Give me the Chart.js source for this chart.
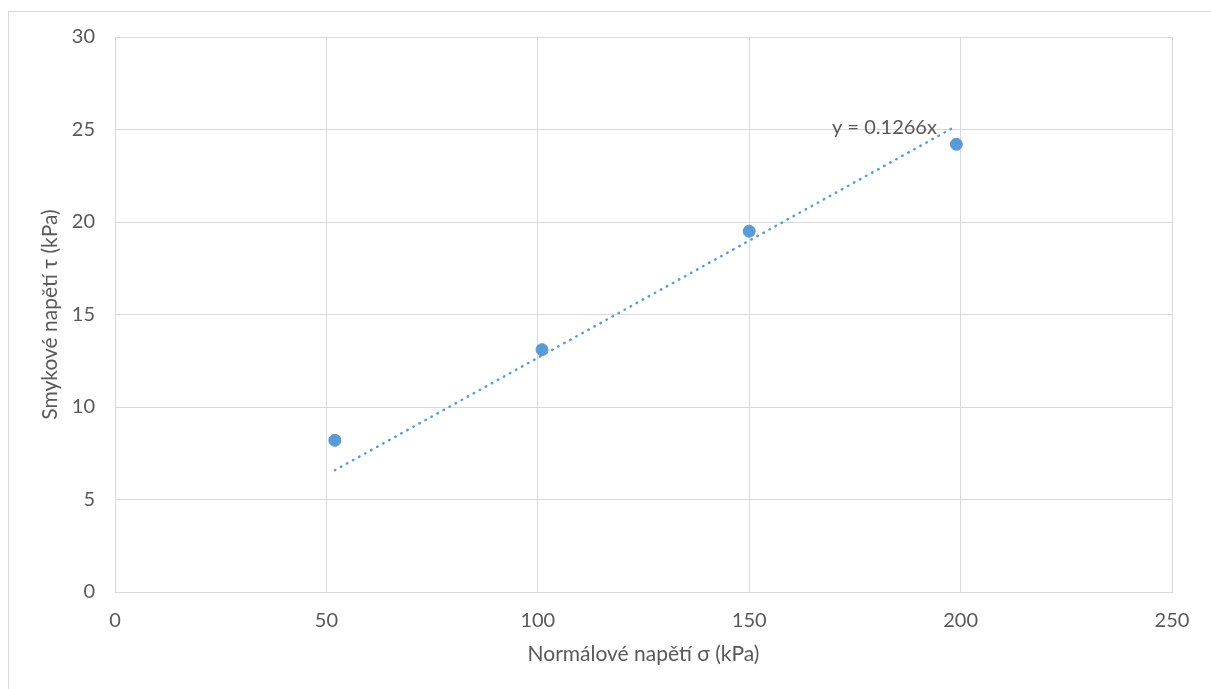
<!DOCTYPE html>
<html><head><meta charset="utf-8">
<script src="https://cdn.jsdelivr.net/npm/chart.js@4"></script>
<style>
html,body{margin:0;padding:0;background:#fff;width:1211px;height:689px;overflow:hidden}
#frame{position:absolute;left:8px;top:11px;width:1300px;height:800px;border-left:1px solid #d9d9d9;border-top:1px solid #d9d9d9;}
#wrap{position:absolute;left:0;top:0;width:1211px;height:689px}
</style></head><body>
<div id="frame"></div>
<div id="wrap"><canvas id="c"></canvas></div>
<script>
// Data
const normalStress = [52, 101, 150, 199];      // σ (kPa)
const shearStress  = [8.2, 13.1, 19.5, 24.2];  // τ (kPa)
const xTickValues = [0, 50, 100, 150, 200, 250];
const yTickValues = [0, 5, 10, 15, 20, 25, 30];
const trendSlope = 0.1266;
const trendLabel = 'y = 0.1266x';
const xTitle = 'Normálové napětí σ (kPa)';
const yTitle = 'Smykové napětí τ (kPa)';

// label anchor (data units, right edge of text)
const labelAnchor = {x: 194.4, y: 25.08};

const xMin = Math.min(...normalStress), xMax = Math.max(...normalStress);
const trendData = [{x: xMin, y: trendSlope * xMin}, {x: xMax, y: trendSlope * xMax}];
const points = normalStress.map((x, i) => ({x, y: shearStress[i]}));

const txt = '#595959', grid = '#d9d9d9', blue = '#5B9BD5';
const font = {family: 'Lato', size: 20};
const titleFont = {family: 'Lato', size: 21};

const trendLabelPlugin = {
  id: 'trendLabel',
  afterDatasetsDraw(chart) {
    const {ctx, scales} = chart;
    ctx.save();
    ctx.font = '20px Lato';
    ctx.fillStyle = txt;
    ctx.textAlign = 'right';
    ctx.textBaseline = 'middle';
    ctx.fillText(trendLabel, scales.x.getPixelForValue(labelAnchor.x), scales.y.getPixelForValue(labelAnchor.y));
    ctx.restore();
  }
};

new Chart(document.getElementById('c'), {
  type: 'scatter',
  data: {
    datasets: [
      {
        type: 'line', data: trendData, borderColor: blue, borderWidth: 2.5,
        borderDash: [0.5, 6.4], borderCapStyle: 'round', pointRadius: 0, fill: false, order: 2
      },
      {
        data: points, backgroundColor: blue, borderColor: blue, borderWidth: 1,
        pointRadius: 6, order: 1
      }
    ]
  },
  options: {
    responsive: true, maintainAspectRatio: false, animation: false,
    layout: {padding: {left: 0, top: 37, right: 39, bottom: 0}},
    plugins: {legend: {display: false}, tooltip: {enabled: false}},
    scales: {
      x: {
        type: 'linear', min: 0, max: 250,
        afterBuildTicks: s => { s.ticks = xTickValues.map(v => ({value: v})); },
        afterFit: s => { s.height = 97; },
        ticks: {color: txt, font, padding: 17},
        grid: {color: grid, drawTicks: false, lineWidth: 1},
        border: {color: grid},
        title: {display: true, text: xTitle, color: txt, font: titleFont, padding: {top: 0, bottom: 22}}
      },
      y: {
        type: 'linear', min: 0, max: 30,
        afterBuildTicks: s => { s.ticks = yTickValues.map(v => ({value: v})); },
        afterFit: s => { s.width = 115; },
        ticks: {color: txt, font, padding: 20},
        grid: {color: grid, drawTicks: false, lineWidth: 1},
        border: {color: grid},
        title: {display: true, text: yTitle, color: txt, font: titleFont, padding: {top: 38, bottom: 0}}
      }
    }
  },
  plugins: [trendLabelPlugin]
});
</script>
</body></html>
